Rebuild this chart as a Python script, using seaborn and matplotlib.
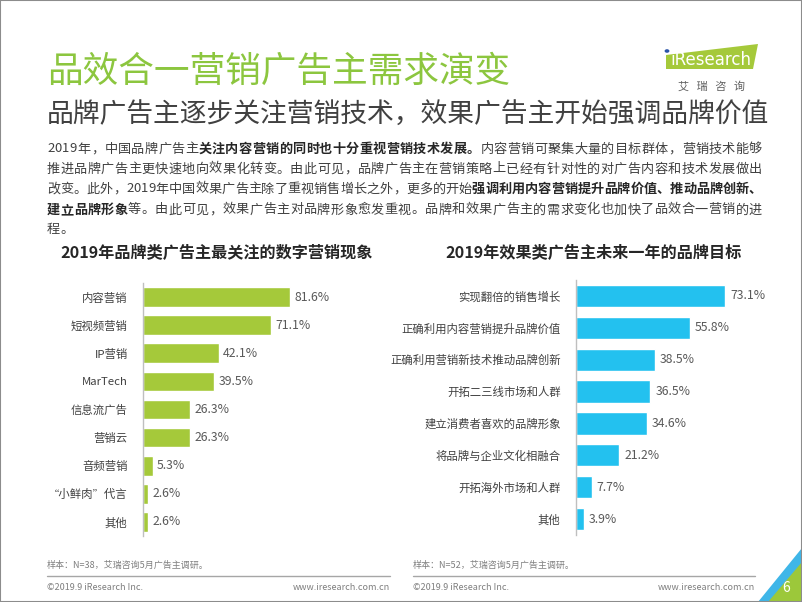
import matplotlib
matplotlib.use('Agg')
import matplotlib.pyplot as plt
import seaborn as sns
import pandas as pd
from matplotlib.patches import Polygon, Rectangle

# ---- data ----
brand_items = ['内容营销', '短视频营销', 'IP营销', 'MarTech', '信息流广告', '营销云',
               '音频营销', '“小鲜肉”代言', '其他']
brand_values = [81.6, 71.1, 42.1, 39.5, 26.3, 26.3, 5.3, 2.6, 2.6]

perf_items = ['实现翻倍的销售增长', '正确利用内容营销提升品牌价值', '正确利用营销新技术推动品牌创新',
              '开拓二三线市场和人群', '建立消费者喜欢的品牌形象', '将品牌与企业文化相融合',
              '开拓海外市场和人群', '其他']
perf_values = [73.1, 55.8, 38.5, 36.5, 34.6, 21.2, 7.7, 3.9]

title = '品效合一营销广告主需求演变'
subtitle = '品牌广告主逐步关注营销技术，效果广告主开始强调品牌价值'
left_title = '2019年品牌类广告主最关注的数字营销现象'
right_title = '2019年效果类广告主未来一年的品牌目标'

# paragraph lines: (text, bold)
para = [
    [('2019年，中国品牌广告主', False), ('关注内容营销的同时也十分重视营销技术发展。', True),
     ('内容营销可聚集大量的目标群体，营销技术能够', False)],
    [('推进品牌广告主更快速地向效果化转变。由此可见，品牌广告主在营销策略上已经有针对性的对广告内容和技术发展做出', False)],
    [('改变。此外，2019年中国效果广告主除了重视销售增长之外，更多的开始', False),
     ('强调利用内容营销提升品牌价值、推动品牌创新、', True)],
    [('建立品牌形象', True), ('等。由此可见，效果广告主对品牌形象愈发重视。品牌和效果广告主的需求变化也加快了品效合一营销的进', False)],
    [('程。', False)],
]

sns.set_theme(style='white')
plt.rcParams['font.family'] = ['Noto Sans CJK SC', 'DejaVu Sans']

W, H = 802, 602
fig = plt.figure(figsize=(W / 100, H / 100), dpi=100)
fig.patch.set_facecolor('white')


def fx(px):
    return px / W


def fy(py):
    return 1 - py / H


GREEN = '#a5c93a'
BLUE = '#23c1ef'
TXT = '#404040'

# headings
fig.text(fx(47), fy(72), title, fontsize=25.7, color='#8cc63f', va='center', ha='left')
fig.text(fx(47), fy(115), subtitle, fontsize=19.3, color='#404040', va='center', ha='left')

# logo
fig.patches.append(Polygon([(fx(666), fy(55)), (fx(758), fy(44)), (fx(753), fy(69)), (fx(666), fy(69))],
                           closed=True, facecolor='#a5c93a', edgecolor='none', transform=fig.transFigure))
fig.text(fx(711), fy(60), 'iResearch', fontsize=12, color='white', va='center', ha='center',
         family='DejaVu Sans')
fig.patches.append(matplotlib.patches.Circle((fx(667), fy(51)), 0.003, facecolor='#2c55a8',
                                             edgecolor='none', transform=fig.transFigure))
fig.text(fx(711), fy(86), '艾   瑞   咨   询', fontsize=8, color='#606060', va='center', ha='center')

# paragraph with bold parts, justified char by char
renderer = fig.canvas.get_renderer()
line_y = [149, 169, 189, 210, 229]
left_px, right_px = 47, 762


def char_widths(segs, size):
    out = []
    for s, b in segs:
        for ch in s:
            t = fig.text(0, 0, ch, fontsize=size, fontweight='bold' if b else 'normal')
            out.append((ch, b, t.get_window_extent(renderer).width))
            t.remove()
    return out


base = 10.5
widest = max(sum(w for _, _, w in char_widths(segs, base)) for segs in para)
size = min(base, base * (right_px - left_px) / widest)

for k, (segs, y) in enumerate(zip(para, line_y)):
    chars = char_widths(segs, size)
    total = sum(w for _, _, w in chars)
    gap = 0
    if k < len(para) - 1 and len(chars) > 1:
        gap = (right_px - left_px - total) / (len(chars) - 1)
    x = left_px
    for ch, b, w in chars:
        fig.text(fx(x), fy(y), ch, fontsize=size, va='center', ha='left',
                 color='#262626' if b else TXT, fontweight='bold' if b else 'normal')
        x += w + gap

# chart titles
fig.text(fx(217), fy(253), left_title, fontsize=11.6, fontweight='bold', color='#262626', ha='center', va='center')
fig.text(fx(593), fy(253), right_title, fontsize=11.6, fontweight='bold', color='#262626', ha='center', va='center')


def draw(ax, items, values, color):
    df = pd.DataFrame({'item': items, 'value': values})
    sns.barplot(data=df, y='item', x='value', color=color, orient='h', width=0.7,
                saturation=1, ax=ax)
    ax.set_xlim(0, 100)
    ax.set_xlabel('')
    ax.set_ylabel('')
    ax.set_xticks([])
    for sp in ['top', 'right', 'bottom']:
        ax.spines[sp].set_visible(False)
    ax.spines['left'].set_color('#bfbfbf')
    ax.spines['left'].set_linewidth(1)
    ax.tick_params(axis='y', length=0, pad=11, labelsize=8.2, labelcolor='#404040')
    ax.set_facecolor('none')
    for i, v in enumerate(values):
        ax.text(v + 2.5, i, f'{v:.1f}%', va='center', ha='left', fontsize=8.8, color='#595959')


ax1 = fig.add_axes([fx(143), fy(536), 180 / W, 253 / H])
draw(ax1, brand_items, brand_values, GREEN)
ax2 = fig.add_axes([fx(576), fy(535), 204 / W, 255 / H])
draw(ax2, perf_items, perf_values, BLUE)

# footer
for x0, x1, n in [(47, 390, 'N=38'), (413, 755, 'N=52')]:
    fig.text(fx(x0), fy(565), f'样本：{n}，艾瑞咨询5月广告主调研。', fontsize=6.5, color='#7f7f7f', va='center')
    fig.add_artist(plt.Line2D([fx(x0), fx(x1)], [fy(576), fy(576)], color='#a6a6a6', lw=1))
    fig.text(fx(x0), fy(588), '©2019.9 iResearch Inc.', fontsize=6.5, color='#7f7f7f', va='center')
    fig.text(fx(x1), fy(588), 'www.iresearch.com.cn', fontsize=6.5, color='#7f7f7f', va='center', ha='right')

# corner decoration
fig.patches.append(Polygon([(fx(758), fy(602)), (fx(802), fy(548)), (fx(802), fy(602))], closed=True,
                           facecolor='#3fb6e8', edgecolor='none', transform=fig.transFigure))
fig.patches.append(Polygon([(fx(768), fy(602)), (fx(802), fy(562)), (fx(802), fy(602))], closed=True,
                           facecolor='#9cc83a', edgecolor='none', transform=fig.transFigure))
fig.text(fx(786), fy(588), '6', fontsize=10, color='white', va='center', ha='center')

# frame
fig.patches.append(Rectangle((0, 0), 1, 1, fill=False, edgecolor='#8c8c8c', lw=1.5,
                             transform=fig.transFigure))

fig.savefig('out.png', dpi=100)
